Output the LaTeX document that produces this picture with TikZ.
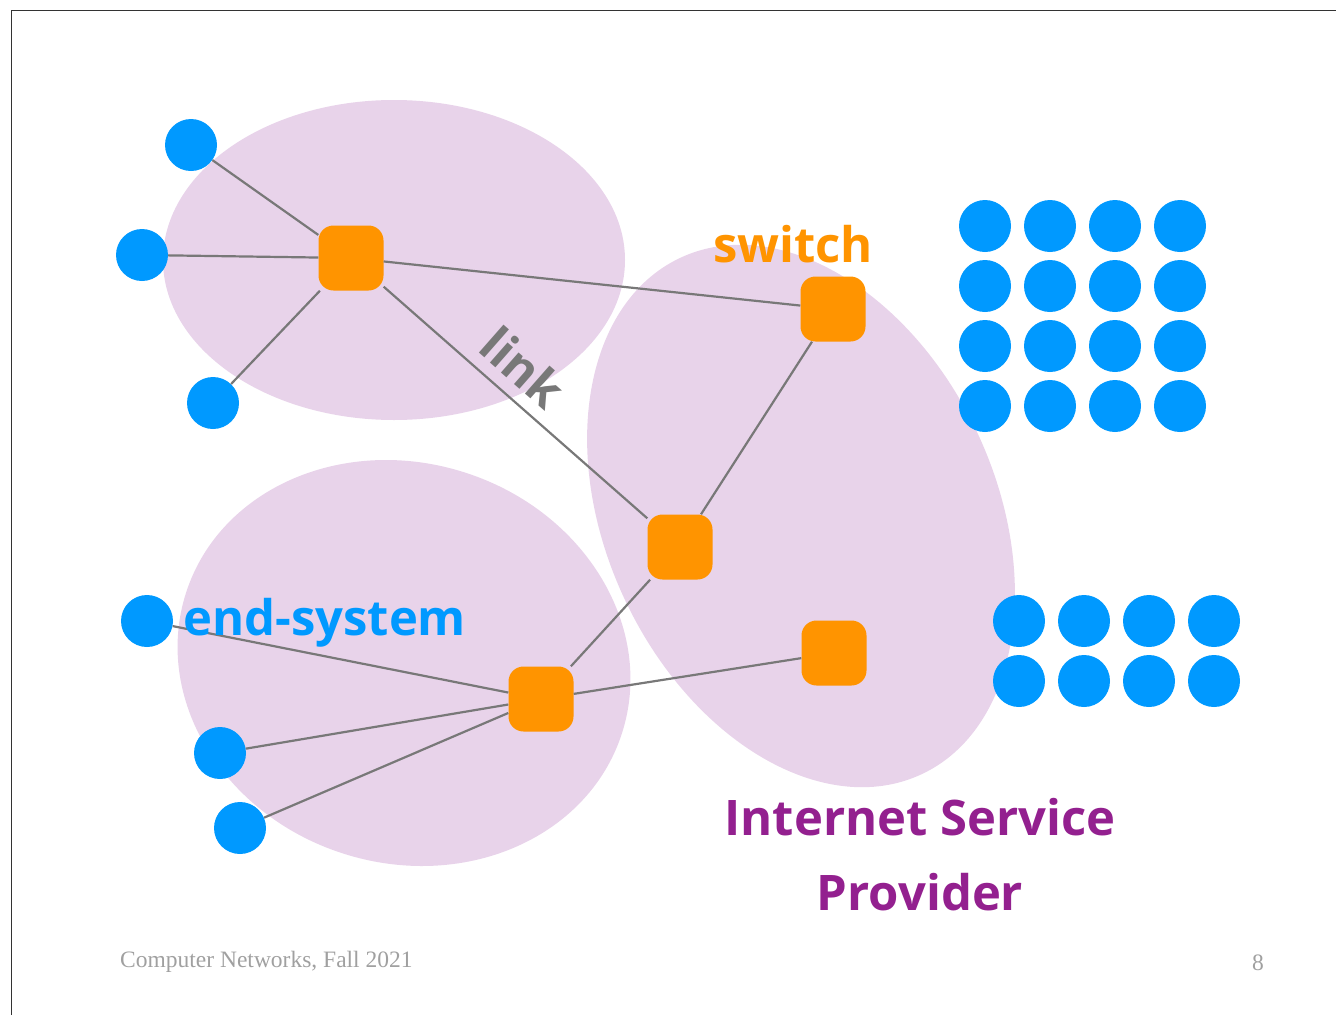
\documentclass[tikz,border=0pt]{standalone}
\usepackage{fontspec}
\usepackage{xcolor}
\setmainfont{Liberation Serif}
\newfontfamily\cartoonfont{Open Sans}
\definecolor{hostblue}{RGB}{0,153,255}
\definecolor{switchorange}{RGB}{255,148,0}
\definecolor{ispfill}{RGB}{232,211,234}
\definecolor{isppurple}{RGB}{147,32,143}
\definecolor{linkgray}{RGB}{120,120,120}
\definecolor{footgray}{RGB}{160,160,160}

\begin{document}
\begin{tikzpicture}[x=1pt,y=-1pt,
  host/.style={circle,fill=hostblue,minimum size=52pt,inner sep=0pt},
  switchbox/.style={fill=switchorange,rounded corners=15pt,minimum size=65pt,inner sep=0pt},
  wire/.style={draw=linkgray,line width=2.2pt},
  blob/.style={fill=ispfill},
  tag/.style={font=\cartoonfont\bfseries\fontsize{49}{58}\selectfont,inner sep=0pt},
  foot/.style={font=\fontsize{23.5}{28}\selectfont,text=footgray,inner sep=0pt}]
  \useasboundingbox (0,0) rectangle (1336,1015);
  \draw[black!80,line width=1pt] (11,1015) -- (11,10) -- (1336,10);

  % ISP areas
  \fill[blob] (394,260) ellipse [x radius=231,y radius=160];
  \fill[blob,rotate around={-18:(404,663)}] (404,663) ellipse [x radius=229,y radius=200];
  \fill[blob,rotate around={25:(801,516)}] (801,516) ellipse [x radius=195,y radius=285];

  % switches
  \node[switchbox] (swA) at (351,258) {};
  \node[switchbox] (swB) at (833,309) {};
  \node[switchbox] (swC) at (680,547) {};
  \node[switchbox] (swD) at (541,699) {};
  \node[switchbox] (swE) at (834,653) {};

  % end-systems
  \node[host] (hA1) at (191,145) {};
  \node[host] (hA2) at (142,255) {};
  \node[host] (hA3) at (213,403) {};
  \node[host] (hD1) at (147,621) {};
  \node[host] (hD2) at (220,753) {};
  \node[host] (hD3) at (240,828) {};

  % waiting end-systems
  \foreach \r in {0,...,3}
    \foreach \c in {0,...,3}
      \node[host] (pool\r\c) at ({985+65*\c},{226+60*\r}) {};
  \foreach \r in {0,1}
    \foreach \c in {0,...,3}
      \node[host] (spare\r\c) at ({1019+65*\c},{621+60*\r}) {};

  % links
  \foreach \h in {hA1,hA2,hA3}
    \draw[wire] (\h) -- (swA);
  \foreach \h in {hD1,hD2,hD3}
    \draw[wire] (\h) -- (swD);
  \draw[wire] (swA) -- (swB);
  \draw[wire] (swA) -- node[tag,text=linkgray,sloped,above=12pt,pos=0.45] (linklabel) {link} (swC);
  \draw[wire] (swB) -- (swC);
  \draw[wire] (swC) -- (swD);
  \draw[wire] (swD) -- (swE);

  % labels
  \node[tag,text=switchorange,anchor=base] (switchlabel) at (793,262) {switch};
  \node[tag,text=hostblue,anchor=base west] (hostlabel) at (183,635) {end-system};
  \node[tag,text=isppurple,anchor=base] (isplabel) at (920,835) {Internet Service};
  \node[tag,text=isppurple,anchor=base] (isplabel2) at (920,910) {Provider};

  \node[foot,anchor=base west] (footer) at (120,967) {Computer Networks, Fall 2021};
  \node[foot,anchor=base] (pagenum) at (1258,970) {8};
\end{tikzpicture}
\end{document}
